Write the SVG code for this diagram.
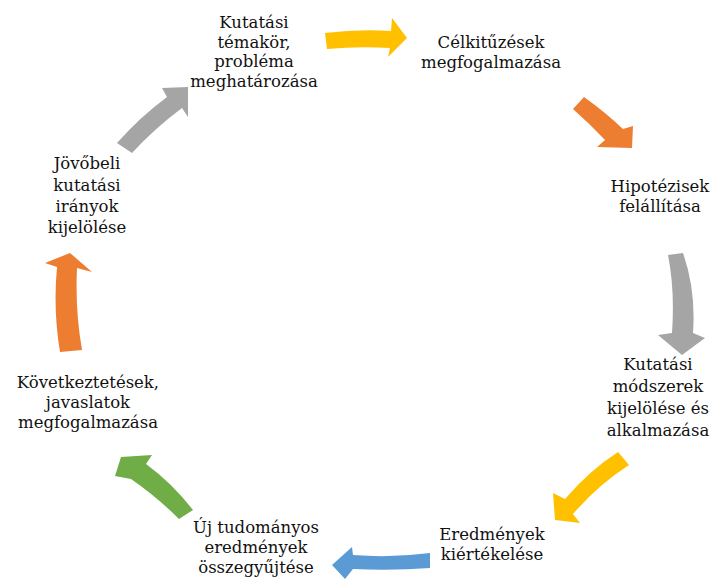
<svg xmlns="http://www.w3.org/2000/svg" width="716" height="579" viewBox="0 0 716 579">
<style>
  text { font-family: "DejaVu Serif", "Liberation Serif", serif; font-size: 16.5px; fill: #111111; text-anchor: middle; }
  .yellow { fill: #FFC000; }
  .orange { fill: #ED7D31; }
  .gray { fill: #A5A5A5; }
  .blue { fill: #5B9BD5; }
  .green { fill: #70AD47; }
</style>
<rect width="716" height="579" fill="#ffffff"/>
<g id="connectors">
  <path class="yellow" d="M325,33 Q358,29 391,31 L392,18 L407,38 L388,57 L390,48 Q358,46 327,49 Z"/>
  <path class="orange" d="M584,97 Q605,112 623,129 L633,126 L632,148 L597,147 L605,140 Q590,124 573,109 Z"/>
  <path class="gray" d="M683,253 Q696,290 693,333 L705,338 L682,355 L658,335 L672,333 Q675,290 668,255 Z"/>
  <path class="yellow" d="M618,452 Q590,470 565,499 L553,493 L555,520 L580,523 L573,514 Q598,485 629,465 Z"/>
  <path class="blue" d="M430,553 Q392,558 353,555 L352,547 L332,565 L345,579 L353,569 Q392,571 430,568 Z"/>
  <path class="green" d="M193,510 Q172,483 146,464 L152,455 L121,457 L115,476 L131,479 Q157,497 179,519 Z"/>
  <path class="orange" d="M60,352 Q53,310 57,267 L45,263 L70,253 L92,272 L77,268 Q75,310 82,350 Z"/>
  <path class="gray" d="M117,143 Q140,117 167,97 L162,88 L188,87 L188,117 L182,108 Q155,128 132,153 Z"/>
</g>
<g id="node1">
  <text x="254" y="28">Kutatási</text>
  <text x="254" y="48">témakör,</text>
  <text x="254" y="67">probléma</text>
  <text x="254" y="87">meghatározása</text>
</g>
<g id="node2">
  <text x="491" y="48">Célkitűzések</text>
  <text x="491" y="68">megfogalmazása</text>
</g>
<g id="node3">
  <text x="660" y="192">Hipotézisek</text>
  <text x="660" y="212">felállítása</text>
</g>
<g id="node4">
  <text x="658" y="370">Kutatási</text>
  <text x="658" y="392">módszerek</text>
  <text x="658" y="414">kijelölése és</text>
  <text x="658" y="436">alkalmazása</text>
</g>
<g id="node5">
  <text x="492" y="540">Eredmények</text>
  <text x="492" y="560">kiértékelése</text>
</g>
<g id="node6">
  <text x="256" y="533">Új tudományos</text>
  <text x="256" y="553">eredmények</text>
  <text x="256" y="573">összegyűjtése</text>
</g>
<g id="node7">
  <text x="88" y="388">Következtetések,</text>
  <text x="88" y="408">javaslatok</text>
  <text x="88" y="428">megfogalmazása</text>
</g>
<g id="node8">
  <text x="87" y="169">Jövőbeli</text>
  <text x="87" y="191">kutatási</text>
  <text x="87" y="212">irányok</text>
  <text x="87" y="233">kijelölése</text>
</g>
</svg>
